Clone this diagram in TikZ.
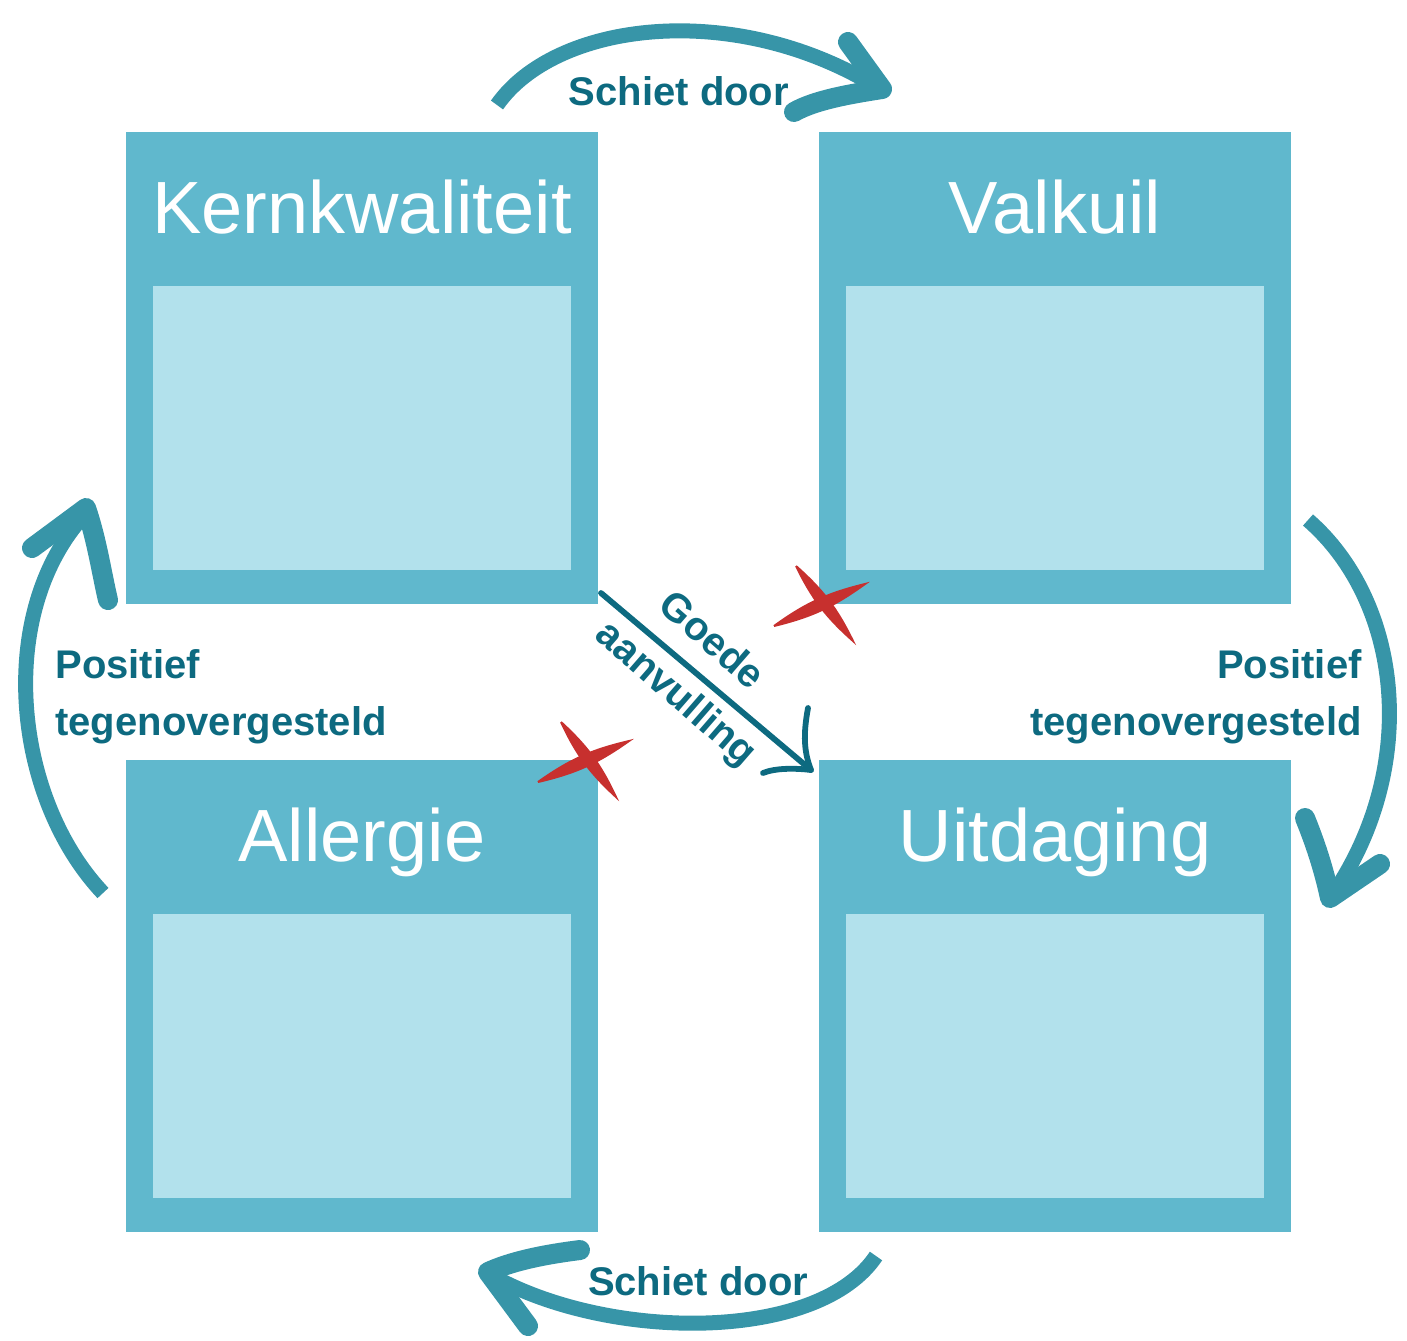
\documentclass[tikz,border=0pt]{standalone}
\usepackage{fontspec}
\setmainfont{Liberation Sans}
\definecolor{boxouter}{HTML}{60B8CD}
\definecolor{boxinner}{HTML}{B2E1EC}
\definecolor{arrowcol}{HTML}{3795A8}
\definecolor{labeltext}{HTML}{0D6A80}
\definecolor{crossred}{HTML}{C7302E}
\begin{document}
\begin{tikzpicture}[x=0.5pt,y=-0.5pt,
  outerbox/.style={fill=boxouter, draw=none, minimum width=236pt, minimum height=236pt, inner sep=0pt, outer sep=0pt},
  innerbox/.style={fill=boxinner, draw=none, minimum width=209pt, minimum height=142pt, inner sep=0pt},
  title/.style={text=white, font=\fontsize{37}{44}\selectfont, anchor=base, inner sep=0pt},
  lbl/.style={text=labeltext, font=\bfseries\fontsize{20}{28}\selectfont, inner sep=0pt},
  bigarrow/.style={draw=arrowcol, line width=7.5pt},
  headstroke/.style={draw=arrowcol, line width=10pt, line cap=round, line join=round},
  diag/.style={draw=labeltext, line width=2.9pt, line cap=round, line join=round},
  crossstroke/.style={fill=crossred, draw=crossred, line width=1pt}]
\useasboundingbox (0,0) rectangle (1407,1340);

% boxes
\node[outerbox] (kern) at (362,368) {};
\node[outerbox] (valk) at (1055,368) {};
\node[outerbox] (allg) at (362,996) {};
\node[outerbox] (uitd) at (1055,996) {};
\node[innerbox] (kernin) at (362,428) {};
\node[innerbox] (valkin) at (1055,428) {};
\node[innerbox] (allgin) at (362,1056) {};
\node[innerbox] (uitdin) at (1055,1056) {};
\node[title] (kernt) at (362,233) {Kernkwaliteit};
\node[title] (valkt) at (1055,233) {Valkuil};
\node[title] (allgt) at (362,861) {Allergie};
\node[title] (uitdt) at (1055,861) {Uitdaging};

% top arrow: Kernkwaliteit -> Valkuil
\coordinate (ts) at (497,105);
\coordinate (te) at (872,84);
\coordinate (tt) at (882,89);
\draw[bigarrow] (ts) .. controls (555,22) and (730,0) .. (te);
\draw[headstroke] (848,42) -- (tt) .. controls (850,94) and (815,100) .. (794,112);
\node[lbl, anchor=base] (sdtop) at (679,105) {Schiet door};

% right arrow: Valkuil -> Uitdaging
\coordinate (rs) at (1308,520);
\coordinate (re) at (1337,888);
\coordinate (rt) at (1330,898);
\draw[bigarrow] (rs) .. controls (1400,600) and (1420,760) .. (re);
\draw[headstroke] (1305,818) .. controls (1318,850) and (1325,875) .. (rt) -- (1380,864);
\node[lbl, anchor=base east] (pr1) at (1362,678) {Positief};
\node[lbl, anchor=base east] (pr2) at (1362,735) {tegenovergesteld};

% bottom arrow: Uitdaging -> Allergie
\coordinate (bs) at (876,1256);
\coordinate (be) at (500,1280);
\coordinate (bt) at (488,1272);
\draw[bigarrow] (bs) .. controls (820,1340) and (620,1342) .. (be);
\draw[headstroke] (580,1250) .. controls (540,1255) and (510,1262) .. (bt) -- (528,1326);
\node[lbl, anchor=base] (sdbot) at (698,1295) {Schiet door};

% left arrow: Allergie -> Kernkwaliteit
\coordinate (ls) at (103,893);
\coordinate (le) at (80,520);
\coordinate (lt) at (86,508);
\draw[bigarrow] (ls) .. controls (15,800) and (-5,620) .. (le);
\draw[headstroke] (32,548) -- (lt) .. controls (97,540) and (102,575) .. (108,600);
\node[lbl, anchor=base west] (pl1) at (55,678) {Positief};
\node[lbl, anchor=base west] (pl2) at (55,735) {tegenovergesteld};

% diagonal: Kernkwaliteit -> Uitdaging
\coordinate (ds) at (601,593);
\coordinate (dt) at (811,770);
\draw[diag] (ds) -- (dt);
\draw[diag] (808,708) .. controls (803,735) and (804,752) .. (dt) .. controls (795,768) and (775,768) .. (763,773);
\node[lbl, rotate=-41] (goede) at (713,639) {Goede};
\node[lbl, rotate=-41] (aanv) at (675,695) {aanvulling};

% red crosses
\path[crossstroke] (774,626) to[bend left=11] (865,584) to[bend left=11] (774,626);
\path[crossstroke] (796,566) to[bend left=11] (853,641) to[bend left=11] (796,566);
\path[crossstroke] (538,782) to[bend left=11] (629,741) to[bend left=11] (538,782);
\path[crossstroke] (561,722) to[bend left=11] (616,797) to[bend left=11] (561,722);
\end{tikzpicture}
\end{document}
